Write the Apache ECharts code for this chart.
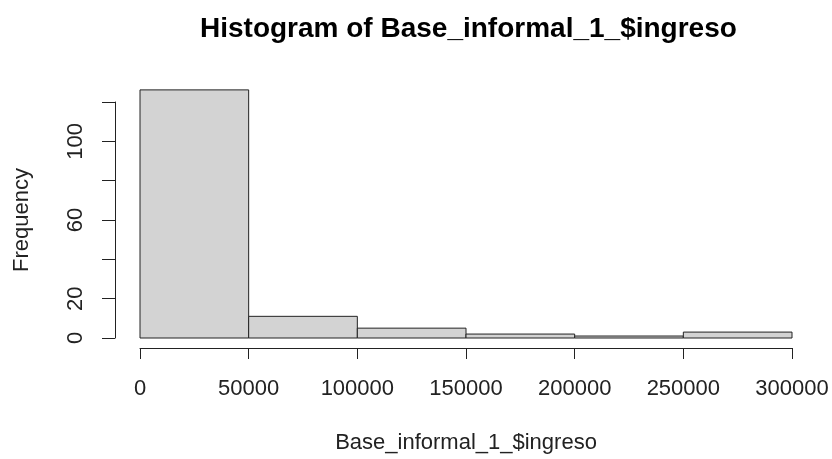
<!DOCTYPE html>
<html>
	<head>
		<meta charset="utf-8">
		<title>Histogram</title>
		<script src="https://cdn.jsdelivr.net/npm/echarts@6/dist/echarts.min.js"></script>
		<style>
			* {
				margin: 0;
				padding: 0
			}
			html,
			body {
				width: 100%;
				height: 100%;
				background: #fff;
			}
			#main {
				width: 832px;
				height: 459px;
			}
		</style>
	</head>
	<body>
		<div id="main"></div>
		<script type="text/javascript">
			// bin edges and counts
			var binStart = [0, 50000, 100000, 150000, 200000, 250000];
			var binEnd = [50000, 100000, 150000, 200000, 250000, 300000];
			var counts = [126, 11, 5, 2, 1, 3];
			// R drops the labels that would overlap
			var yLabels = [0, 20, 60, 100];

			var bins = [];
			for (var i = 0; i < counts.length; i++) {
				bins.push([binStart[i], binEnd[i], counts[i]]);
			}

			var font = 'Liberation Sans, Arial, sans-serif';
			var ink = '#222';

			var chart = echarts.init(document.getElementById('main'));
			chart.setOption({
				animation: false,
				backgroundColor: '#fff',
				title: {
					text: 'Histogram of Base_informal_1_$ingreso',
					left: 195,
					top: 10,
					textStyle: {
						fontFamily: font,
						fontSize: 28,
						fontWeight: 'bold',
						color: '#000'
					}
				},
				grid: [
					// bars
					{ left: 140, right: 40, top: 82, bottom: 121, outerBoundsMode: 'none', containLabel: false },
					// y axis as R draws it (only from 0 to 120)
					{ left: 115, right: 40, top: 102, bottom: 121, outerBoundsMode: 'none', containLabel: false }
				],
				xAxis: [{
					gridIndex: 0,
					type: 'value',
					min: 0,
					max: 300000,
					interval: 50000,
					offset: 10,
					name: 'Base_informal_1_$ingreso',
					nameLocation: 'middle',
					nameGap: 84,
					nameTextStyle: { fontFamily: font, fontSize: 22, color: ink },
					axisLine: { onZero: false, lineStyle: { color: ink, width: 1 } },
					axisTick: { length: 11, lineStyle: { color: ink } },
					axisLabel: {
						margin: 30,
						fontFamily: font,
						fontSize: 22,
						color: ink,
						formatter: function (v) { return String(v); }
					},
					splitLine: { show: false }
				}, {
					gridIndex: 1,
					type: 'value',
					show: false
				}],
				yAxis: [{
					gridIndex: 0,
					type: 'value',
					min: 0,
					max: 130,
					show: false
				}, {
					gridIndex: 1,
					type: 'value',
					min: 0,
					max: 120,
					interval: 20,
					name: 'Frequency',
					nameLocation: 'middle',
					nameGap: 82,
					nameTextStyle: { fontFamily: font, fontSize: 22, color: ink },
					axisLine: { show: true, onZero: false, lineStyle: { color: ink, width: 1 } },
					axisTick: { show: true, length: 13, lineStyle: { color: ink } },
					axisLabel: {
						rotate: 90,
						margin: 28,
						fontFamily: font,
						fontSize: 22,
						color: ink,
						formatter: function (v) {
							return yLabels.indexOf(v) >= 0 ? String(v) : '';
						}
					},
					splitLine: { show: false }
				}],
				series: [{
					type: 'custom',
					xAxisIndex: 0,
					yAxisIndex: 0,
					encode: { x: [0, 1], y: 2 },
					data: bins,
					renderItem: function (params, api) {
						var p0 = api.coord([api.value(0), 0]);
						var p1 = api.coord([api.value(1), api.value(2)]);
						return {
							type: 'rect',
							shape: { x: p0[0], y: p1[1], width: p1[0] - p0[0], height: p0[1] - p1[1] },
							style: { fill: '#d3d3d3', stroke: ink, lineWidth: 1 }
						};
					}
				}]
			});
		</script>
	</body>
</html>
